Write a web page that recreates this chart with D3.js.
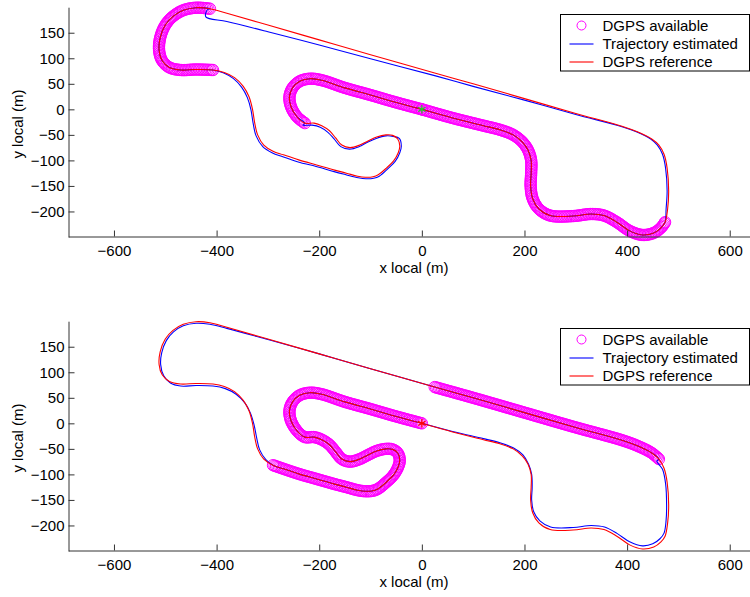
<!DOCTYPE html>
<html>
<head>
<meta charset="utf-8">
<script src="https://cdn.jsdelivr.net/npm/d3@7"></script>
<style>
  body { margin: 0; background: #fff; }
  text { font-family: "Liberation Sans", Arial, sans-serif; }
</style>
</head>
<body>
<div id="chart"></div>
<script>
// Reference track (DGPS), split into sections so the DGPS-available stretches can be picked out
var secA = [[0,0],[60,-17],[120,-32],[152,-40],[178,-50],[196,-64],[207,-80],[213,-100],[213,-125],[212,-150],[216,-175],[228,-195],[250,-208],[295,-209],[330,-205],[355,-208],[380,-221],[405,-238],[430,-246],[452,-242],[466,-232],[474,-221]];
var secB = [[474,-221],[479,-195],[481,-160],[478,-115],[472,-88],[462,-70]];
var secC = [[462,-70],[448,-58],[420,-44],[390,-33],[300,-8],[200,21],[100,50],[25,71]];
var secD = [[25,71],[-100,107],[-200,136],[-300,165],[-380,188],[-413,197]];
var secE = [[-413,197],[-440,199],[-465,194],[-485,182],[-500,165],[-510,140],[-512,115],[-506,95],[-492,82],[-470,77],[-440,78],[-407,77]];
var secF = [[-407,77],[-385,72],[-365,62],[-348,45],[-337,25],[-330,0],[-326,-25],[-320,-50],[-308,-70],[-290,-82]];
var secG = [[-290,-82],[-270,-89],[-240,-99],[-205,-109],[-170,-119],[-147,-125],[-125,-131],[-110,-133],[-95,-132],[-85,-128],[-69,-115],[-55,-101],[-46,-85],[-43,-72],[-47,-58],[-57,-51],[-70,-50],[-88,-54],[-105,-62],[-121,-70],[-140,-75],[-156,-70],[-168,-56],[-180,-42],[-195,-32],[-210,-27],[-228,-27]];
var secH = [[-228,-27],[-243,-15],[-255,5],[-258,25],[-252,42],[-238,55],[-218,60],[-195,57],[-150,42],[-100,28],[-59,16],[-30,8],[0,0]];

// Estimated trajectory during DGPS outages
var estTopBCD = [[474,-221],[476,-195],[478,-160],[475,-115],[469,-88],[459,-70],[446,-58],[418,-44],[390,-34],[300,-10],[200,18],[100,45],[25,66],[-100,99],[-200,126],[-300,152],[-380,172],[-421,181],[-418,195],[-413,197]];
var estTopFG = [[-407,77],[-386,71],[-367,60],[-351,43],[-340,23],[-333,-1],[-329,-26],[-323,-52],[-310,-73],[-292,-85],[-271,-93],[-241,-103],[-206,-112],[-171,-122],[-148,-128],[-124,-134],[-109,-136],[-94,-135],[-83,-131],[-67,-117],[-52,-102],[-43,-85],[-40,-72],[-44,-57],[-56,-53],[-70,-52],[-89,-57],[-107,-65],[-122,-73],[-141,-78],[-158,-73],[-171,-58],[-183,-45],[-198,-35],[-214,-31],[-232,-31],[-228,-27]];
var estBotAB = [[0,0],[60,-16],[120,-30],[152,-38],[178,-48],[197,-62],[208,-80],[214,-100],[215,-125],[214,-150],[218,-173],[230,-191],[251,-203],[295,-204],[330,-200],[356,-203],[381,-216],[405,-232],[430,-240],[450,-236],[464,-226],[472,-215],[476,-190],[477,-160],[475,-118],[469,-90],[458,-74],[462,-70]];
var estBotDEF = [[25,71],[-100,107],[-200,136],[-300,164],[-380,186],[-413,194],[-440,196],[-465,191],[-484,179],[-498,162],[-507,138],[-509,115],[-503,93],[-490,79],[-470,73],[-440,74],[-407,73],[-383,68],[-362,57],[-345,40],[-334,20],[-327,-3],[-322,-28],[-316,-52],[-304,-71],[-290,-82]];

var xTicks = [-600, -400, -200, 0, 200, 400, 600];
var yTicks = [-200, -150, -100, -50, 0, 50, 100, 150];
var legendLabels = ['DGPS available', 'Trajectory estimated', 'DGPS reference'];
var legendColors = ['#ff00ff', '#0000ff', '#ff0000'];

function join() {
  var out = [];
  for (var i = 0; i < arguments.length; i++) {
    var s = arguments[i];
    out = out.concat(out.length ? s.slice(1) : s);
  }
  return out;
}

var refTrack = join(secA, secB, secC, secD, secE, secF, secG, secH);

var panels = [
  { top: 0,
    dgps: [secA, secE, secH],
    est: join(secA, estTopBCD, secE, estTopFG, secH),
    star: '#22cc22' },
  { top: 314,
    dgps: [secC, join(secG, secH)],
    est: join(estBotAB, secC, estBotDEF, secG, secH),
    star: '#ff0000' }
];

var W = 750, H = 597;
var svg = d3.select('#chart').append('svg')
  .attr('width', W).attr('height', H);

// axis equal: same px per metre on both axes
var xScale = d3.scaleLinear().domain([-689, 659]).range([68.3, 760]);

panels.forEach(function(p) {
  var g = svg.append('g').attr('transform', 'translate(0,' + p.top + ')');
  var yScale = d3.scaleLinear().domain([-250, 200]).range([237, 7.2]);

  var line = d3.line()
    .x(function(d) { return xScale(d[0]); })
    .y(function(d) { return yScale(d[1]); })
    .curve(d3.curveCatmullRom.alpha(0.5));

  // DGPS available: open circles along the stretches with a fix
  p.dgps.forEach(function(seg) {
    var path = g.append('path').attr('d', line(seg)).attr('fill', 'none');
    var node = path.node();
    var len = node.getTotalLength();
    var pts = d3.range(0, len, 1.6).map(function(l) { return node.getPointAtLength(l); });
    pts.push(node.getPointAtLength(len));
    path.remove();
    g.append('g').selectAll('circle')
      .data(pts)
      .enter().append('circle')
      .attr('cx', function(d) { return d.x; })
      .attr('cy', function(d) { return d.y; })
      .attr('r', 5.7)
      .attr('fill', 'none')
      .attr('stroke', '#ff00ff')
      .attr('stroke-width', 1);
  });

  g.append('path')
    .attr('d', line(p.est))
    .attr('fill', 'none')
    .attr('stroke', '#0000ff')
    .attr('stroke-width', 1.1);

  g.append('path')
    .attr('d', line(refTrack))
    .attr('fill', 'none')
    .attr('stroke', '#ff0000')
    .attr('stroke-width', 1.1);

  g.append('path')
    .attr('d', d3.symbol(d3.symbolAsterisk, 50)())
    .attr('transform', 'translate(' + xScale(0) + ',' + yScale(0) + ')')
    .attr('fill', 'none')
    .attr('stroke', p.star)
    .attr('stroke-width', 1.2);

  // axes
  var xAxis = g.append('g')
    .attr('transform', 'translate(0,236.5)')
    .call(d3.axisBottom(xScale).tickValues(xTicks).tickSizeInner(-6).tickSizeOuter(0).tickPadding(8.5));
  var yAxis = g.append('g')
    .attr('transform', 'translate(68.5,0)')
    .call(d3.axisLeft(yScale).tickValues(yTicks).tickSizeInner(-6).tickSizeOuter(0).tickPadding(4));

  [xAxis, yAxis].forEach(function(a) {
    a.select('.domain').attr('stroke', '#333');
    a.selectAll('.tick line').attr('stroke', '#333');
    a.selectAll('.tick text').attr('fill', '#000').style('font-size', '15px');
  });

  g.append('text')
    .attr('x', 414).attr('y', 272.5)
    .attr('text-anchor', 'middle')
    .style('font-size', '15px')
    .text('x local (m)');

  g.append('text')
    .attr('transform', 'translate(23,124) rotate(-90)')
    .attr('text-anchor', 'middle')
    .style('font-size', '15px')
    .text('y local (m)');

  // legend
  var lg = g.append('g').attr('transform', 'translate(560.5,14.5)');
  lg.append('rect')
    .attr('width', 189).attr('height', 56.5)
    .attr('fill', '#fff').attr('stroke', '#000').attr('stroke-width', 1);
  legendLabels.forEach(function(label, i) {
    var row = lg.append('g').attr('transform', 'translate(0,' + (11 + i * 18) + ')');
    if (i === 0) {
      row.append('circle')
        .attr('cx', 21).attr('cy', 0).attr('r', 4.5)
        .attr('fill', 'none').attr('stroke', legendColors[i]).attr('stroke-width', 1);
    } else {
      row.append('line')
        .attr('x1', 9).attr('x2', 33).attr('y1', 0.5).attr('y2', 0.5)
        .attr('stroke', legendColors[i])
        .attr('stroke-width', 1.1);
    }
    row.append('text')
      .attr('x', 42).attr('y', 0).attr('dy', '0.36em')
      .style('font-size', '15px')
      .text(label);
  });
});
</script>
</body>
</html>
